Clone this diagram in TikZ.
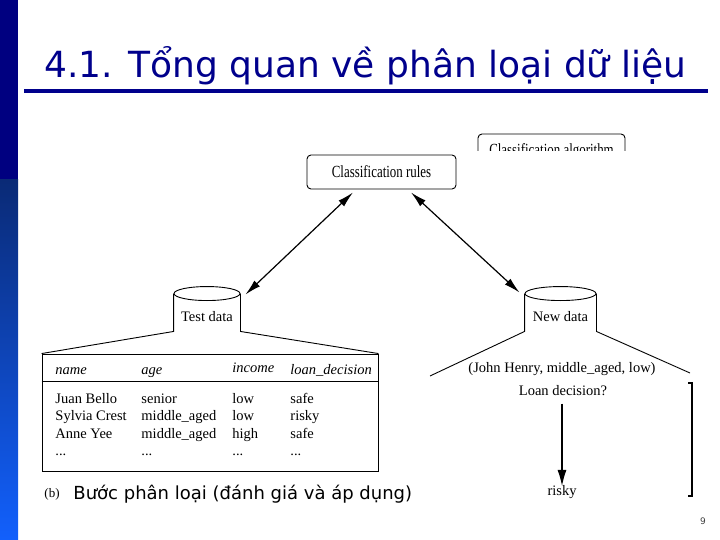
\documentclass[tikz,border=0pt]{standalone}
\usepackage{fontspec}
\setmainfont{Liberation Serif}
\newfontfamily\slidefont{DejaVu Sans}
\usetikzlibrary{arrows.meta}
\definecolor{slidenavy}{RGB}{0,0,140}
\definecolor{bartop}{RGB}{0,0,128}
\definecolor{barmid}{RGB}{10,42,118}
\definecolor{barlow}{RGB}{18,96,252}
\newcommand{\celldots}{...}
\tikzset{
  rulebox/.style={draw, rounded corners=4pt, line width=0.9pt, minimum width=149pt,
    minimum height=34pt, inner sep=0pt, font=\fontsize{17}{17}\selectfont},
  dbnode/.style={minimum height=37pt, inner sep=0pt, text height=17pt, text depth=0pt,
    font=\fontsize{14.5}{15}\selectfont},
  cell/.style={anchor=base west, inner sep=0pt, font=\fontsize{14.5}{15}\selectfont},
  headcell/.style={cell, font=\fontsize{14.5}{15}\selectfont\itshape},
  plain/.style={inner sep=1pt, font=\fontsize{14.5}{15}\selectfont},
  dblarrow/.style={line width=1.2pt, {Latex[length=16pt,width=8pt]}-{Latex[length=16pt,width=8pt]}},
  onearrow/.style={line width=1.2pt, -{Latex[length=16pt,width=9pt]}},
}
\begin{document}
\begin{tikzpicture}[x=1pt,y=-1pt,line width=0.9pt]
\useasboundingbox (0,0) rectangle (720,540);
% side bar
\fill[bartop] (0,0) rectangle (18,180);
\shade[top color=barmid, bottom color=barlow] (0,180) rectangle (18,540);
% title
\node[anchor=base west, inner sep=0pt, text=slidenavy, font=\slidefont\fontsize{36}{36}\selectfont] (title) at (44,78) {4.1. Tổng quan về phân loại dữ liệu};
\draw[slidenavy, line width=3.5pt] (24,91) -- (708,91);

% cut off box
\begin{scope}
  \clip (470,128) rectangle (640,151);
  \node[rulebox, minimum width=147pt] (algo) at (551.5,151) {\scalebox{0.76}[1]{Classification algorithm}};
\end{scope}
\node[rulebox] (rules) at (381.5,172) {\scalebox{0.76}[1]{Classification rules}};

% test data
\node[dbnode, minimum width=66pt] (testdb) at (207,312.5) {Test data};
\draw (testdb.north) ellipse [x radius=33pt, y radius=7pt];
\node[draw, minimum width=336pt, minimum height=117pt, inner sep=0pt] (tbl) at (210,412.5) {};
\draw (testdb.north west) -- (testdb.south west) -- (tbl.north west);
\draw (testdb.north east) -- (testdb.south east) -- (tbl.north east);
\coordinate (hdr) at (0,381);
\draw (tbl.west |- hdr) -- (tbl.east |- hdr);
\node[headcell] (hname) at (55,374) {name};
\node[headcell] (hage) at (141,374) {age};
\node[headcell] (hinc) at (232,372) {income};
\node[headcell] (hdec) at (290,374) {loan\_decision};
\foreach \nm/\ag/\inc/\dec [count=\r] in {Juan Bello/senior/low/safe,
    Sylvia Crest/middle\_aged/low/risky, Anne Yee/middle\_aged/high/safe,
    \celldots/\celldots/\celldots/\celldots}{
  \node[cell] (name\r) at (55,385.5+17.5*\r) {\nm};
  \node[cell] (age\r) at (141,385.5+17.5*\r) {\ag};
  \node[cell] (inc\r) at (232,385.5+17.5*\r) {\inc};
  \node[cell] (dec\r) at (290,385.5+17.5*\r) {\dec};
}

% new data
\node[dbnode, minimum width=71pt] (newdb) at (560.5,312.5) {New data};
\draw (newdb.north) ellipse [x radius=35.5pt, y radius=7pt];
\coordinate (nleft) at (430,376);
\coordinate (nright) at (690,373);
\draw (newdb.north west) -- (newdb.south west) -- (nleft);
\draw (newdb.north east) -- (newdb.south east) -- (nright);
\node[plain] (tuple) at (562,369) {(John Henry, middle\_aged, low)};
\node[plain] (ask) at (563,391) {Loan decision?};
\node[plain] (risky) at (562,492) {risky};
\draw[onearrow] ([xshift=-1pt,yshift=-6pt]ask.south) -- ([yshift=-2pt]risky.north);
\draw[line width=1.3pt] (688,383) -- (692,383) -- (692,496) -- (688,496);

% arrows
\draw[dblarrow] ([xshift=-28.5pt,yshift=-3pt]rules.south) -- ([xshift=5pt,yshift=-1pt]testdb.north east);
\draw[dblarrow] ([xshift=29.5pt,yshift=-3pt]rules.south) -- ([xshift=-5pt,yshift=1pt]newdb.north west);

% caption
\node[anchor=base west, inner sep=0pt, font=\fontsize{13}{13}\selectfont] (blabel) at (44,497) {(b)};
\node[anchor=base west, inner sep=0pt, font=\slidefont\fontsize{18}{18}\selectfont] (stepname) at (73,499) {Bước phân loại (đánh giá và áp dụng)};
\node[font=\slidefont\fontsize{9}{9}\selectfont, text=black!75] (pagenum) at (703,521) {9};
\end{tikzpicture}
\end{document}
